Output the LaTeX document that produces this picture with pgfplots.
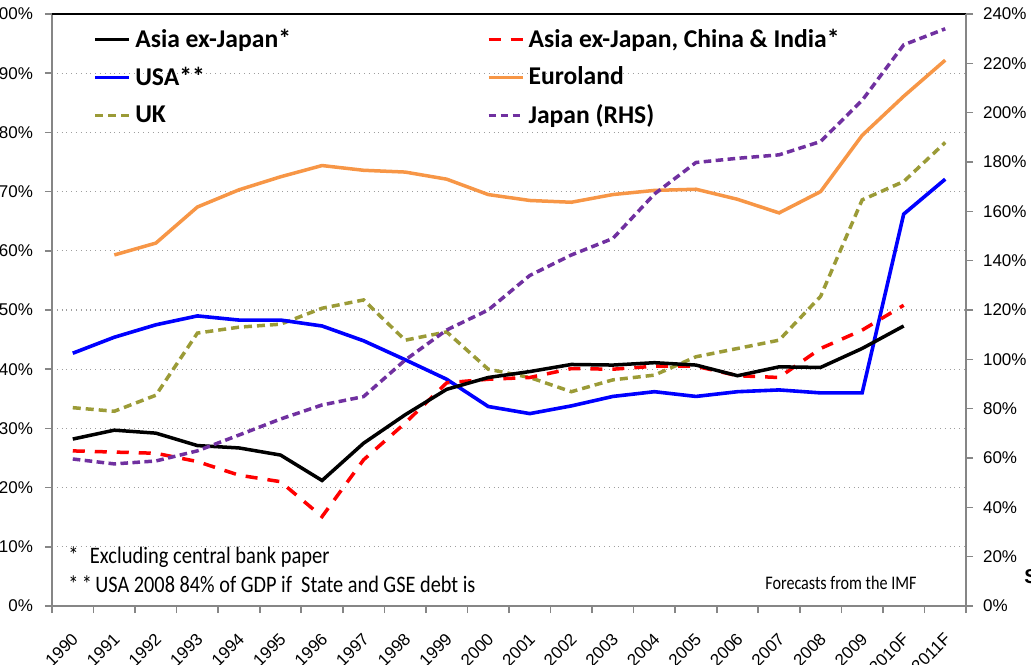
\documentclass[border=0pt]{standalone}
\usepackage{fontspec}
\setmainfont{Carlito}
\newfontfamily\arialfont{Liberation Sans}
\usepackage{graphicx}
\usepackage{pgfplots}
\pgfplotsset{compat=1.18}
\definecolor{euro}{RGB}{247,150,70}
\definecolor{ukc}{RGB}{155,155,55}
\definecolor{jpc}{RGB}{112,48,160}
\definecolor{axgray}{RGB}{134,134,134}

\pgfplotstableread{
x y
0 28.2
1 29.7
2 29.2
3 27.1
4 26.7
5 25.5
6 21.2
7 27.5
8 32.3
9 36.6
10 38.6
11 39.6
12 40.8
13 40.7
14 41.1
15 40.7
16 38.9
17 40.4
18 40.3
19 43.5
20 47.3
}\asia

\pgfplotstableread{
x y
0 26.2
1 26.0
2 25.8
3 24.4
4 22.1
5 21.0
6 15.1
7 24.7
8 30.9
9 37.7
10 38.3
11 38.6
12 40.1
13 40.0
14 40.5
15 40.5
16 38.9
17 38.6
18 43.5
19 46.6
20 50.8
}\asiaci

\pgfplotstableread{
x y
0 42.7
1 45.4
2 47.5
3 49.0
4 48.3
5 48.3
6 47.3
7 44.8
8 41.6
9 38.3
10 33.7
11 32.5
12 33.8
13 35.4
14 36.2
15 35.4
16 36.2
17 36.5
18 36.0
19 36.0
20 66.2
21 72.1
}\usa

\pgfplotstableread{
x y
1 59.3
2 61.3
3 67.4
4 70.3
5 72.5
6 74.4
7 73.6
8 73.3
9 72.1
10 69.5
11 68.5
12 68.2
13 69.5
14 70.2
15 70.4
16 68.7
17 66.4
18 70.0
19 79.5
20 86.1
21 92.2
}\euro

\pgfplotstableread{
x y
0 33.5
1 32.9
2 35.6
3 46.1
4 47.1
5 47.6
6 50.3
7 51.7
8 44.9
9 46.3
10 40.0
11 38.6
12 36.2
13 38.2
14 39.0
15 42.1
16 43.5
17 44.9
18 52.3
19 68.6
20 71.7
21 78.3
}\uk

\pgfplotstableread{
x y
0 59.6
1 57.6
2 58.8
3 62.9
4 69.3
5 75.8
6 81.5
7 84.9
8 99.7
9 111.9
10 120.0
11 134.0
12 142.3
13 149.0
14 167.0
15 179.8
16 181.5
17 182.9
18 188.3
19 205.0
20 227.5
21 234.0
}\japan

\pgfplotsset{
  base/.style={
    scale only axis, width=457pt, height=296pt,
    at={(0pt,0pt)}, anchor=south west,
    xmin=-0.5, xmax=21.5, ymin=0,
    tick align=outside,
    axis line style={axgray, line width=0.8pt},
    major tick length=3.5pt,
    every tick/.style={axgray, line width=0.8pt},
    tick label style={font=\arialfont\fontsize{8.5}{10}\selectfont},
    clip=false,
  },
  asiast/.style={black, line width=1.75pt},
  asiacist/.style={red, line width=1.75pt, dash pattern=on 6pt off 5pt},
  usast/.style={blue, line width=1.8pt},
  eurost/.style={euro, line width=1.75pt},
  ukst/.style={ukc, line width=1.75pt, dash pattern=on 4pt off 2.5pt},
  jpst/.style={jpc, line width=1.75pt, dash pattern=on 3.8pt off 2.2pt},
}

\begin{document}
\begin{tikzpicture}
\begin{axis}[base,
  ymax=100,
  axis x line*=bottom, axis y line*=left,
  ytick={0,10,...,100},
  yticklabels={0\%,10\%,20\%,30\%,40\%,50\%,60\%,70\%,80\%,90\%,100\%},
  yticklabel style={xshift=-2.5pt},
  ymajorgrids,
  grid style={axgray!80, dotted, line width=0.6pt},
  xtick={0,...,21},
  xticklabels={1990,1991,1992,1993,1994,1995,1996,1997,1998,1999,2000,2001,2002,2003,2004,2005,2006,2007,2008,2009,2010F,2011F},
  major x tick style={draw=none},
  minor xtick={-0.5,0.5,...,21.5},
  minor x tick style={axgray, line width=0.8pt},
  minor tick length=3.5pt,
  xticklabel style={xshift=-1pt, yshift=-4.5pt, rotate=45, anchor=north east},
]
\draw[black, line width=0.8pt] (rel axis cs:0,1) -- (rel axis cs:1,1);
\addplot[eurost] table[x=x,y=y] {\euro};
\addplot[ukst] table[x=x,y=y] {\uk};
\addplot[usast] table[x=x,y=y] {\usa};
\addplot[asiacist] table[x=x,y=y] {\asiaci};
\addplot[asiast] table[x=x,y=y] {\asia};
\node[anchor=base west, font=\fontsize{11.8}{13}\selectfont, inner sep=0pt]
  at ([xshift=8pt, yshift=21.5pt] rel axis cs:0,0) {\scalebox{0.87}[1]{*\hspace{6.5pt}Excluding central bank paper}};
\node[anchor=base west, font=\fontsize{11.8}{13}\selectfont, inner sep=0pt]
  at ([xshift=8pt, yshift=7pt] rel axis cs:0,0) {\scalebox{0.86}[1]{*\,*\,USA 2008 84\% of GDP if\ \ State and GSE debt is}};
\node[anchor=base west, font=\fontsize{9.6}{11}\selectfont, inner sep=0pt]
  at ([xshift=356.5pt, yshift=8.5pt] rel axis cs:0,0) {\scalebox{0.84}[1]{Forecasts from the IMF}};
\node[anchor=base west, font=\arialfont\bfseries\fontsize{10}{12}\selectfont, inner sep=0pt]
  at ([xshift=486pt, yshift=11.5pt] rel axis cs:0,0) {S};
\end{axis}
\begin{axis}[base,
  ymax=240,
  axis y line*=right, axis x line=none,
  ytick={0,20,...,240},
  yticklabels={0\%,20\%,40\%,60\%,80\%,100\%,120\%,140\%,160\%,180\%,200\%,220\%,240\%},
  yticklabel style={xshift=1.5pt},
  legend columns=2,
  legend cell align=left,
  legend style={draw=none, fill=none, inner sep=0pt,
    at={(0.045,0.982)}, anchor=north west,
    font=\bfseries\fontsize{12.8}{15}\selectfont,
    row sep=4.2pt,
    /tikz/every even column/.append style={column sep=96pt}},
]
\addlegendimage{asiast}
\addlegendentry{Asia ex-Japan*}
\addlegendimage{asiacist}
\addlegendentry{Asia ex-Japan, China \& India*}
\addlegendimage{usast}
\addlegendentry{USA**}
\addlegendimage{eurost}
\addlegendentry{Euroland}
\addlegendimage{ukst}
\addlegendentry{UK}
\addplot[jpst] table[x=x,y=y] {\japan};
\addlegendentry{Japan (RHS)}
\end{axis}
\pgfresetboundingbox
\path[use as bounding box] (-26pt,-29pt) rectangle (489.5pt,303pt);
\end{tikzpicture}
\end{document}
